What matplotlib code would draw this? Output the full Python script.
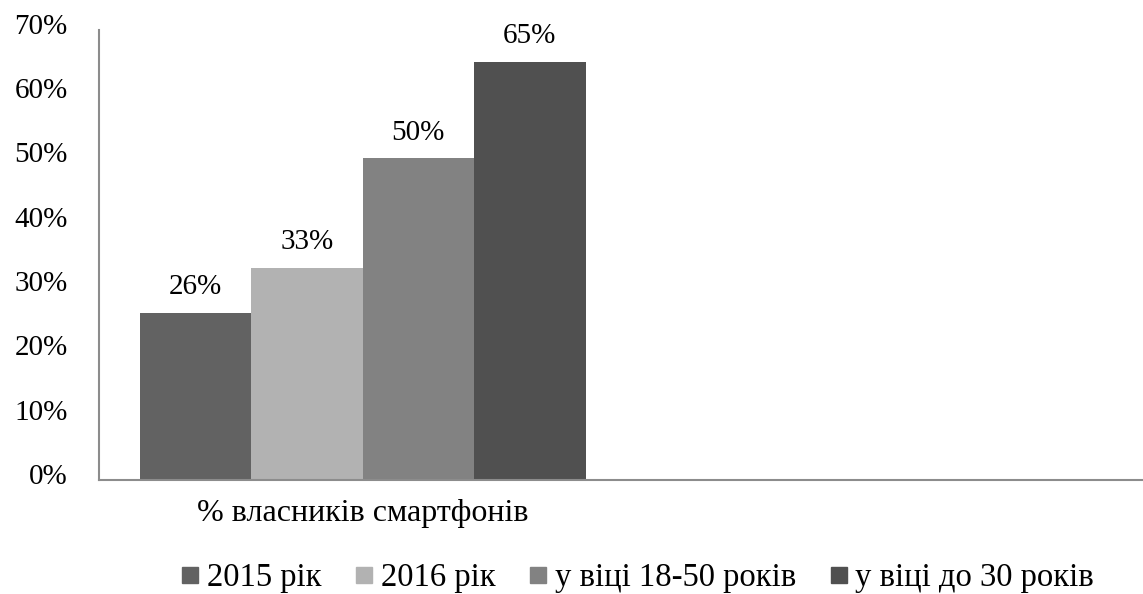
import matplotlib
matplotlib.use("Agg")
import matplotlib.pyplot as plt
import matplotlib.transforms as mtransforms
from matplotlib.lines import Line2D
import numpy as np

categories = ["% власників смартфонів", ""]
series_names = ["2015 рік", "2016 рік", "у віці 18-50 років", "у віці до 30 років"]
series_values = [
    [0.26, np.nan],
    [0.33, np.nan],
    [0.50, np.nan],
    [0.65, np.nan],
]
colors = ["#626262", "#b2b2b2", "#828282", "#505050"]
yticks = [0, 0.1, 0.2, 0.3, 0.4, 0.5, 0.6, 0.7]
ytick_labels = ["0%", "10%", "20%", "30%", "40%", "50%", "60%", "70%"]

plt.rcParams['font.family'] = ['Liberation Serif', 'DejaVu Serif']

fig = plt.figure(figsize=(11.43, 5.94), dpi=100)
ax = fig.add_axes([99/1143, 1-480/594, (1143-99)/1143, (480-29.5)/594])

x = np.arange(len(categories))
width = 0.2136
n = len(series_names)
for i, (name, vals, c) in enumerate(zip(series_names, series_values, colors)):
    pos = x + (i - (n-1)/2) * width
    ax.bar(pos, vals, width=width, color=c, label=name)
    for xi, v in zip(pos, vals):
        if not np.isnan(v):
            ax.annotate(f"{v*100:.0f}%", (xi, v), xytext=(0, 9), textcoords="offset points",
                        ha="center", va="bottom", fontsize=21, color="black")

ax.set_xlim(-0.505, 1.495)
ax.set_ylim(0, 0.7)
ax.set_yticks(yticks)
ax.set_yticklabels(ytick_labels)
ax.set_xticks(x)
ax.set_xticklabels(categories)
ax.tick_params(axis='both', length=0, colors="black")
ax.tick_params(axis='y', pad=22.5, labelsize=21)
ax.tick_params(axis='x', pad=14, labelsize=23)
shift = mtransforms.ScaledTranslation(0, 6/100, fig.dpi_scale_trans)
for lab in ax.get_yticklabels():
    lab.set_transform(lab.get_transform() + shift)
for s in ["top", "right"]:
    ax.spines[s].set_visible(False)
for s in ["left", "bottom"]:
    ax.spines[s].set_color("#8c8c8c")
    ax.spines[s].set_linewidth(1.5)

handles = [Line2D([0], [0], marker='s', linestyle='none', markersize=12,
                  markerfacecolor=c, markeredgecolor=c) for c in colors]
fig.legend(handles, series_names, loc="center", bbox_to_anchor=(638/1143, 1-578/594),
           ncol=4, frameon=False, fontsize=23.5, handlelength=0.52, handletextpad=0.25,
           columnspacing=1.05, borderpad=0, borderaxespad=0)

fig.savefig("out.png", dpi=100)
